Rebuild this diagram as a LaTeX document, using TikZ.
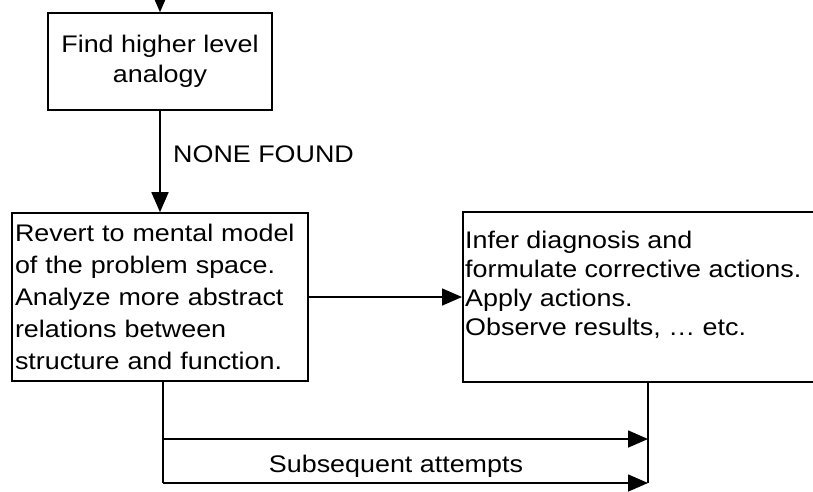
\documentclass[tikz,border=0pt]{standalone}
\usepackage{fontspec}
\setmainfont{Liberation Sans}[FakeStretch=1.12]
\usetikzlibrary{arrows.meta}
\begin{document}
\begin{tikzpicture}[x=1pt,y=-1pt,
  box/.style={draw, line width=1.6pt, inner sep=0pt},
  txt/.style={font=\fontsize{24}{32}\selectfont},
  link/.style={line width=1.6pt, -{Triangle[length=20pt,width=17pt]}},
  plain/.style={line width=1.6pt}]
\useasboundingbox (0,0) rectangle (813,491);
\clip (0,0) rectangle (813,491);

% entry from above
\coordinate (entry) at (160,0);

% boxes
\node[box, txt, font=\fontsize{24}{30}\selectfont, minimum width=224pt, minimum height=97pt, align=center]
  (find) at (160,61.5) {Find higher level\\analogy};
\node[box, txt, minimum width=296pt, minimum height=168pt, text width=290pt, align=left]
  (revert) at (160,297) {Revert to mental model\\of the problem space.\\Analyze more abstract\\relations between\\structure and function.};
\node[box, minimum width=420pt, minimum height=170pt, anchor=west]
  (act) at (462,297) {};
\node[txt, font=\fontsize{24}{29}\selectfont, anchor=north west, align=left, inner sep=0pt]
  (acttext) at (465,231) {Infer diagnosis and\\formulate corrective actions.\\Apply actions.\\Observe results, \dots\ etc.};

% labels
\node[txt, anchor=base west, inner sep=0pt] (none) at (173,162) {NONE FOUND};
\node[txt, anchor=base, inner sep=0pt] (subs) at (396,472) {Subsequent attempts};

% connectors
\draw[link] (entry) -- (find.north);
\draw[link] (find.south) -- (revert.north);
\draw[link] (revert.east) -- (act.west);

\coordinate (b1) at (163,439);
\coordinate (b2) at (163,483);
\coordinate (e1) at (648,439);
\coordinate (e2) at (648,483);
\draw[plain] (revert.south -| b1) -- (b2);
\draw[link] (b1) -- (e1);
\draw[link] (b2) -- (e2);
\draw[plain] (act.south -| e1) -- (e2);
\end{tikzpicture}
\end{document}
